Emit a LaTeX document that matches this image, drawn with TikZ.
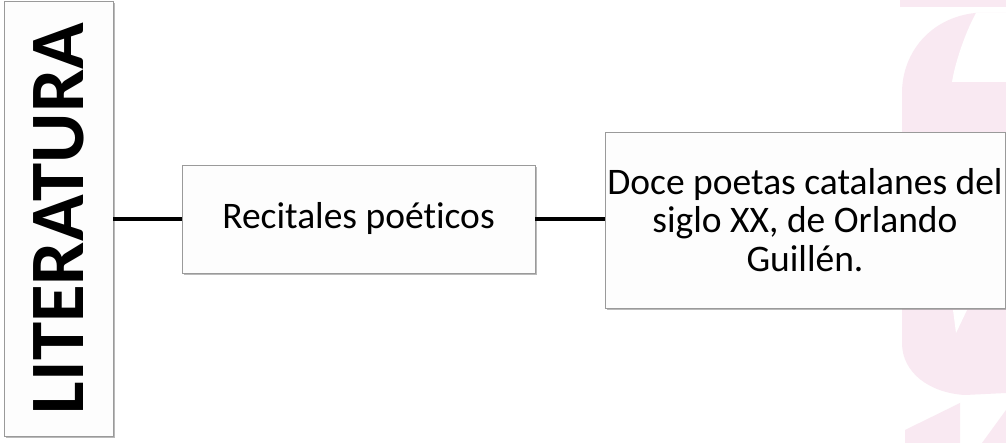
\documentclass[tikz,border=0pt]{standalone}
\usepackage{fontspec}
\setmainfont{Carlito}[Ligatures=NoCommon]
\usetikzlibrary{shadows}
\definecolor{wm}{HTML}{F9E9F2}
\definecolor{bord}{HTML}{9A9A9A}
\definecolor{boxfill}{HTML}{FDFDFD}
\tikzset{
  box/.style={draw=bord, line width=0.9pt, fill=boxfill, inner sep=0pt,
    drop shadow={shadow xshift=1.6pt, shadow yshift=-2.2pt, opacity=0.45, fill=black!60}},
  conn/.style={line width=4pt, black}
}
\begin{document}
\begin{tikzpicture}[x=1pt,y=1pt]
\useasboundingbox (0,0) rectangle (1006,443);
\fill[white] (0,0) rectangle (1006,443);
% watermark shapes (y measured from top: tikz y = 443 - y)
\fill[wm] (900,443) rectangle (1006,436);
\fill[wm] (1006,430) -- (975,430) .. controls (930,425) and (902,390) .. (902,350)
  -- (902,100) .. controls (902,70) and (930,50) .. (965,48) -- (1006,50) -- cycle;
\fill[white] (1006,430) -- (976,430) .. controls (965,410) and (955,380) .. (952,361) -- (1006,361) -- cycle;
\fill[white] (953,133) -- (967,133) -- (956,110) -- cycle;
\fill[wm] (960,40) -- (905,13) -- (905,0) -- (960,0) -- cycle;
\fill[wm] (982,0) -- (1006,33) -- (1006,0) -- cycle;
% nodes
\node[box, minimum width=109pt, minimum height=435pt] (lit) at (58.5,224.5)
  {\rotatebox{90}{\fontsize{77}{80}\selectfont\bfseries LITERATURA}};
\node[box, minimum width=353pt, minimum height=108pt, font=\fontsize{37.5}{39}\selectfont] (rec) at (358.5,224)
  {Recitales poéticos};
\node[box, minimum width=400pt, minimum height=176pt, align=center, font=\fontsize{37.5}{38.5}\selectfont] (doc) at (805,223)
  {Doce poetas catalanes del\\siglo XX, de Orlando\\Guillén.};
% connectors
\draw[conn] (lit.east |- 0,223.5) -- (rec.west |- 0,223.5);
\draw[conn] (rec.east |- 0,223.5) -- (doc.west |- 0,223.5);
\end{tikzpicture}
\end{document}
